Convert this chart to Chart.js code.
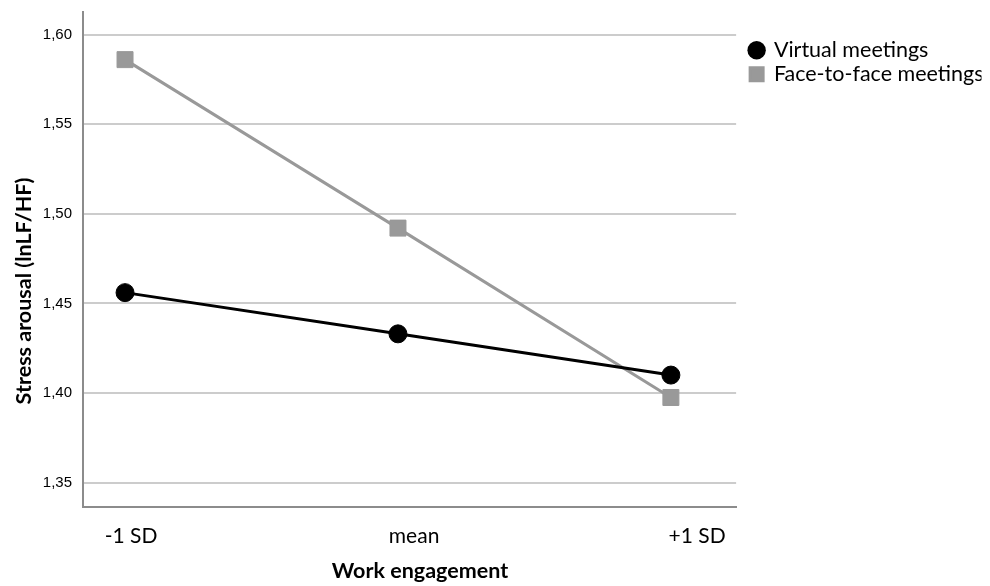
<!DOCTYPE html>
<html>
<head>
<meta charset="utf-8">
<script src="https://cdn.jsdelivr.net/npm/chart.js@4"></script>
<style>
html,body{margin:0;padding:0;background:#fff;}
#wrap{width:990px;height:586px;position:relative;}
</style>
</head>
<body>
<div id="wrap"><canvas id="c" width="990" height="586"></canvas></div>
<script>
const categories = ['-1 SD', 'mean', '+1 SD'];
const virtualMeetings = [1.456, 1.433, 1.410];
const faceToFaceMeetings = [1.586, 1.492, 1.3975];
const yTickValues = [1.35, 1.40, 1.45, 1.50, 1.55, 1.60];
const yTickLabels = ['1,35', '1,40', '1,45', '1,50', '1,55', '1,60'];
const seriesNames = ['Virtual meetings', 'Face-to-face meetings'];
const xTitle = 'Work engagement';
const yTitle = 'Stress arousal (lnLF/HF)';

const toPoints = arr => arr.map((v, i) => ({x: i, y: v}));
const calib = "Lato, 'Open Sans', sans-serif";

new Chart(document.getElementById('c'), {
  type: 'line',
  data: {
    datasets: [
      {
        label: seriesNames[0],
        data: toPoints(virtualMeetings),
        xAxisID: 'xd',
        yAxisID: 'y',
        borderColor: '#000000',
        backgroundColor: '#000000',
        borderWidth: 3,
        pointStyle: 'circle',
        pointRadius: 9,
        pointBorderWidth: 1,
        pointBorderColor: '#000000',
        pointBackgroundColor: '#000000',
        tension: 0
      },
      {
        label: seriesNames[1],
        data: toPoints(faceToFaceMeetings),
        xAxisID: 'xd',
        yAxisID: 'y',
        borderColor: '#999999',
        backgroundColor: '#999999',
        borderWidth: 3,
        pointStyle: 'rect',
        pointRadius: 11.3,
        pointBorderWidth: 1,
        pointBorderColor: '#999999',
        pointBackgroundColor: '#999999',
        tension: 0
      }
    ]
  },
  options: {
    responsive: false,
    animation: false,
    layout: {padding: {top: 5, left: 0, right: 8.5, bottom: 0}},
    plugins: {
      tooltip: {enabled: false},
      legend: {
        position: 'right',
        align: 'start',
        title: {display: true, text: '', font: {size: 10}, padding: {top: 8.5, bottom: 0}},
        labels: {
          usePointStyle: true,
          boxHeight: 13,
          boxWidth: 13,
          padding: 14,
          color: '#000',
          font: {family: calib, size: 21.5, lineHeight: 0.465},
          generateLabels(chart) {
            const items = Chart.defaults.plugins.legend.labels.generateLabels(chart);
            items.forEach((it, i) => {
              it.text = [it.text];
              it.lineWidth = i === 0 ? 0 : 3;
              it.fillStyle = chart.data.datasets[i].pointBackgroundColor;
              it.strokeStyle = chart.data.datasets[i].pointBackgroundColor;
            });
            return items;
          }
        }
      }
    },
    scales: {
      xd: {
        type: 'linear',
        display: false,
        min: -0.154,
        max: 2.239
      },
      x: {
        type: 'linear',
        position: 'bottom',
        min: -0.170,
        max: 2.138,
        afterBuildTicks(scale) {
          scale.ticks = categories.map((c, i) => ({value: i}));
        },
        afterFit(scale) { scale.height = 79; },
        grid: {display: false, drawTicks: false},
        border: {display: true, color: '#8c8c8c', width: 2},
        ticks: {
          color: '#000',
          padding: 17,
          font: {family: calib, size: 21},
          maxRotation: 0,
          callback: v => categories[v]
        },
        title: {
          display: true,
          text: '    ' + xTitle,
          color: '#000',
          font: {family: calib, size: 21.5, weight: 'bold'},
          padding: {top: 0, bottom: 2}
        }
      },
      y: {
        type: 'linear',
        position: 'left',
        min: 1.3364,
        max: 1.6124,
        afterBuildTicks(scale) {
          scale.ticks = yTickValues.map(v => ({value: v}));
        },
        afterFit(scale) {
          scale.width = 83;
          scale.paddingTop = 0;
          scale.paddingBottom = 0;
        },
        grid: {display: true, color: '#cccccc', lineWidth: 2, drawTicks: false},
        border: {display: true, color: '#8c8c8c', width: 2},
        ticks: {
          color: '#000',
          padding: 11,
          font: {family: "'Liberation Sans', Arial, sans-serif", size: 15},
          callback: v => yTickLabels[yTickValues.findIndex(t => Math.abs(t - v) < 1e-6)]
        },
        title: {
          display: true,
          text: yTitle + '            ',
          color: '#000',
          font: {family: calib, size: 21.5, weight: 'bold'},
          padding: {top: 11.1, bottom: 0}
        }
      }
    }
  }
});
</script>
</body>
</html>
